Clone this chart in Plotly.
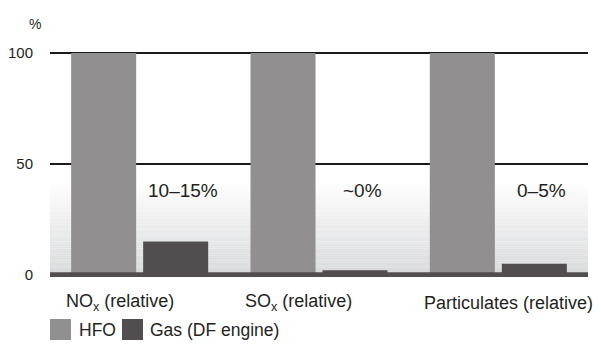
import plotly.graph_objects as go

categories = ["NO<sub>x</sub> (relative)", "SO<sub>x</sub> (relative)", "Particulates (relative)"]
series_names = ["HFO", "Gas (DF engine)"]
hfo_values = [100, 100, 100]
gas_values = [15, 2, 5]
reduction_labels = ["10–15%", "~0%", "0–5%"]
y_tick_values = [0, 50, 100]
y_tick_labels = ["0", "50", "100"]

colors = ["#918f90", "#524e4f"]
FONT = "Liberation Sans, Arial, sans-serif"
TEXT = "#231f20"

W, H = 601, 346
ML, MR, MT, MB = 50, 13, 42, 69
PW, PH = W - ML - MR, H - MT - MB


def px_x(x):
    return (x - ML) / PW


def px_y(y):
    return (H - MB - y) / PH


fig = go.Figure()
fig.add_bar(x=categories, y=hfo_values, name=series_names[0], marker_color=colors[0],
            marker_line_width=0, showlegend=False)
fig.add_bar(x=categories, y=gas_values, name=series_names[1], marker_color=colors[1],
            marker_line_width=0, showlegend=False)

shapes = []
# gradient background (white -> light gray) in lower part of plot
N = 40
top = 43.0
for i in range(N):
    y0 = top * i / N
    y1 = top * (i + 1) / N
    t = (i + 0.5) / N  # 0 at bottom, 1 at top
    c0, c1 = (216, 217, 219), (255, 255, 255)
    c = tuple(int(round(a + (b - a) * t)) for a, b in zip(c0, c1))
    shapes.append(dict(type="rect", xref="paper", yref="y", x0=0, x1=1, y0=y0, y1=y1,
                       fillcolor=f"rgb{c}", line_width=0, layer="below"))
# baseline
shapes.append(dict(type="line", xref="paper", yref="y", x0=0, x1=1, y0=0, y1=0,
                   line=dict(color=colors[1], width=5), layer="above"))

annotations = []
for cat, lab in zip(categories, reduction_labels):
    annotations.append(dict(x=cat, y=38, xref="x", yref="y", text=lab, showarrow=False,
                            xshift=43, font=dict(family=FONT, size=19, color=TEXT)))
for cat in categories:
    annotations.append(dict(x=cat, y=0, xref="x", yref="y", text=cat, showarrow=False,
                            xanchor="left", yanchor="middle", xshift=-76, yshift=-28,
                            font=dict(family=FONT, size=18, color=TEXT)))
annotations.append(dict(x=px_x(27), y=px_y(14), xref="paper", yref="paper", text="%",
                        showarrow=False, font=dict(family=FONT, size=14, color=TEXT)))

# custom legend
legend_items = [(50, 77), (122, 148)]
for (sx, tx), name, col in zip(legend_items, series_names, colors):
    shapes.append(dict(type="rect", xref="paper", yref="paper", x0=px_x(sx), x1=px_x(sx + 21),
                       y0=px_y(340), y1=px_y(319), fillcolor=col, line_width=0))
    annotations.append(dict(x=px_x(tx), y=px_y(330), xref="paper", yref="paper", text=name,
                            showarrow=False, xanchor="left", yanchor="middle",
                            font=dict(family=FONT, size=17.5, color=TEXT)))

fig.update_layout(
    width=W, height=H,
    margin=dict(l=ML, r=MR, t=MT, b=MB, autoexpand=False),
    paper_bgcolor="white", plot_bgcolor="white",
    barmode="group", bargap=0.197, bargroupgap=0.097,
    shapes=shapes, annotations=annotations,
    showlegend=False,
    xaxis=dict(showticklabels=False, showgrid=False, zeroline=False, showline=False,
               range=[-0.5, 2.5], automargin=False),
    yaxis=dict(range=[-1, 105], tickvals=y_tick_values, ticktext=y_tick_labels,
               showgrid=True, gridcolor="#1a1a1a", gridwidth=2.2, zeroline=False,
               showline=False, ticks="outside", ticklen=13, tickcolor="rgba(0,0,0,0)",
               automargin=False,
               tickfont=dict(family=FONT, size=15, color=TEXT)),
)

fig.write_html("out.html")
